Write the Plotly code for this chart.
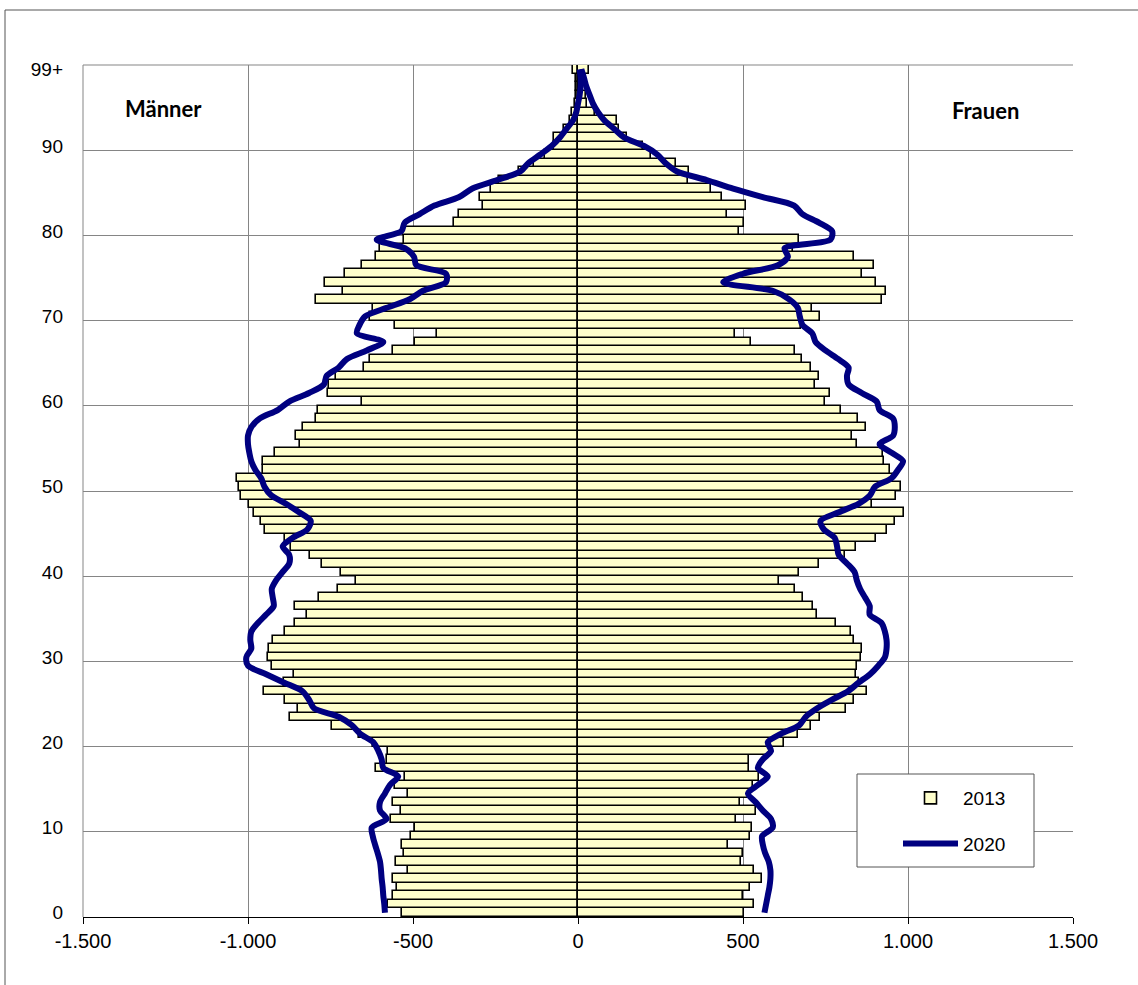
import plotly.graph_objects as go

# ---------------- data ----------------
ages = list(range(100))
age_tick_vals = [0, 10, 20, 30, 40, 50, 60, 70, 80, 90, 99]
age_tick_text = ["0", "10", "20", "30", "40", "50", "60", "70", "80", "90", "99+"]
value_tick_vals = [-1500, -1000, -500, 0, 500, 1000, 1500]
value_tick_text = ["-1.500", "-1.000", "-500", "0", "500", "1.000", "1.500"]

men_2013 = [
    -534, -575, -562, -550, -562, -514, -552, -527, -534, -506,
    -494, -568, -537, -562, -514, -555, -524, -612, -580, -575,
    -620, -663, -744, -874, -849, -889, -952, -890, -860, -927,
    -940, -937, -925, -889, -857, -821, -857, -785, -727, -673,
    -717, -775, -813, -869, -889, -948, -960, -983, -996, -1021,
    -1026, -1033, -955, -955, -917, -841, -854, -833, -795, -788,
    -654, -759, -754, -732, -648, -631, -562, -494, -428, -555,
    -631, -621, -793, -712, -768, -707, -656, -612, -600, -527,
    -531, -375, -362, -288, -296, -263, -239, -180, -134, -99,
    -74, -74, -43, -23, -18, -8, -5, -5, -5, -15,
]
women_2013 = [
    504, 532, 499, 522, 557, 534, 494, 499, 456, 521,
    527, 479, 540, 491, 524, 529, 549, 519, 519, 585,
    624, 668, 707, 732, 813, 837, 876, 853, 841, 844,
    857, 861, 837, 828, 783, 725, 712, 681, 658, 610,
    671, 729, 810, 841, 904, 935, 962, 989, 891, 965,
    978, 955, 945, 928, 925, 844, 830, 872, 849, 798,
    749, 765, 717, 729, 705, 678, 658, 524, 476, 676,
    732, 709, 920, 932, 902, 861, 897, 837, 650, 671,
    489, 504, 450, 509, 435, 403, 332, 337, 296, 220,
    198, 147, 124, 119, 53, 26, 23, 13, 10, 33,
]
men_2020 = [
    -585, -587, -590, -592, -595, -597, -600, -607, -615, -622,
    -625, -580, -600, -600, -585, -570, -545, -590, -595, -605,
    -620, -660, -685, -725, -800, -815, -835, -890, -945, -1000,
    -1005, -990, -993, -990, -970, -945, -922, -925, -928, -915,
    -895, -875, -875, -895, -865, -820, -810, -845, -885, -930,
    -950, -960, -978, -990, -996, -1000, -1000, -990, -965, -910,
    -875, -815, -770, -762, -725, -700, -640, -590, -670, -662,
    -645, -580, -510, -470, -400, -400, -490, -497, -525, -610,
    -535, -525, -480, -435, -360, -320, -245, -175, -150, -114,
    -80, -55, -35, -15, -5, 0, 5, 8, 8, 5,
]
women_2020 = [
    565, 570, 575, 580, 583, 583, 578, 567, 560, 558,
    590, 585, 560, 538, 515, 545, 575, 545, 560, 585,
    575, 615, 670, 690, 725, 770, 818, 850, 885, 910,
    930, 935, 935, 930, 920, 884, 884, 870, 855, 845,
    838, 815, 790, 785, 778, 745, 735, 790, 850, 885,
    900, 950, 970, 985, 950, 914, 955, 960, 955, 914,
    905, 860, 820, 815, 820, 788, 750, 720, 710, 680,
    672, 666, 640, 590, 440, 500, 606, 636, 626, 765,
    770, 730, 680, 655, 560, 470, 390, 300, 265, 240,
    200, 140, 110, 80, 60, 45, 35, 25, 18, 10,
]

# ---------------- figure ----------------
W, H = 1138, 985
L, R, T, B = 83, 1073, 65, 917   # plot-area pixel box

def px_x(p):
    return (p - L) / (R - L)

def px_y(p):
    return (B - p) / (B - T)

bar_style = dict(color="#FFFFCC", line=dict(color="black", width=1.6))
line_style = dict(color="#000080", width=6, shape="spline", smoothing=0.8)

fig = go.Figure()
fig.add_trace(go.Bar(y=ages, x=men_2013, orientation="h", name="2013", width=1,
                     marker=bar_style, legendgroup="a"))
fig.add_trace(go.Bar(y=ages, x=women_2013, orientation="h", name="2013", width=1,
                     marker=bar_style, legendgroup="a", showlegend=False))
fig.add_trace(go.Scatter(y=ages, x=men_2020, mode="lines", name="2020",
                         line=line_style, legendgroup="b"))
fig.add_trace(go.Scatter(y=ages, x=women_2020, mode="lines", name="2020",
                         line=line_style, legendgroup="b", showlegend=False))

x_tick_font = dict(family="Liberation Sans, Arial, sans-serif", size=20, color="black")
y_tick_font = dict(family="Liberation Sans, Arial, sans-serif", size=19, color="black")
grid_col = "#858585"

fig.update_layout(
    width=W, height=H,
    margin=dict(l=L, r=W - R, t=T, b=H - B),
    paper_bgcolor="white", plot_bgcolor="white",
    barmode="overlay", bargap=0,
    font=y_tick_font,
    xaxis=dict(range=[-1500, 1500], tickvals=value_tick_vals, ticktext=value_tick_text,
               showgrid=True, gridcolor=grid_col, gridwidth=1,
               zeroline=True, zerolinecolor="black", zerolinewidth=2,
               showline=True, linecolor="black", linewidth=1,
               ticks="outside", ticklen=6, tickcolor="black", tickfont=x_tick_font),
    yaxis=dict(range=[-0.5, 99.5], tickvals=age_tick_vals, ticktext=age_tick_text,
               showgrid=False, zeroline=False, showline=False, ticks="",
               ticklabelstandoff=19, tickfont=y_tick_font,
               minor=dict(tickvals=[9.5 + 10 * k for k in range(10)],
                          showgrid=True, gridcolor=grid_col, gridwidth=1)),
    legend=dict(x=px_x(898), y=px_y(779), xanchor="left", yanchor="top",
                bgcolor="rgba(0,0,0,0)", borderwidth=0,
                font=y_tick_font, itemwidth=55, tracegroupgap=18,
                traceorder="grouped"),
    showlegend=True,
)

# plot-area frame (top / left in grey), legend box and outer frame
fig.add_shape(type="line", xref="paper", yref="paper", x0=0, x1=1, y0=1, y1=1,
              line=dict(color=grid_col, width=1), layer="below")
fig.add_shape(type="line", xref="paper", yref="paper", x0=0, x1=0, y0=0, y1=1,
              line=dict(color=grid_col, width=1), layer="below")
fig.add_shape(type="rect", xref="paper", yref="paper",
              x0=px_x(857), x1=px_x(1034), y0=px_y(867), y1=px_y(774),
              line=dict(color="#555555", width=1), fillcolor="white", layer="above")
fig.add_shape(type="line", xref="paper", yref="paper",
              x0=px_x(5), x1=px_x(1138), y0=px_y(10), y1=px_y(10),
              line=dict(color="#555555", width=1))
fig.add_shape(type="line", xref="paper", yref="paper",
              x0=px_x(5), x1=px_x(5), y0=px_y(10), y1=px_y(985),
              line=dict(color="#555555", width=1))

label_font = dict(family="Lato, Open Sans, sans-serif", size=22, color="black")
fig.add_annotation(text="<b>Männer</b>", xref="paper", yref="paper",
                   x=px_x(163), y=px_y(108), xanchor="center", yanchor="middle",
                   showarrow=False, font=label_font)
fig.add_annotation(text="<b>Frauen</b>", xref="paper", yref="paper",
                   x=px_x(985), y=px_y(110), xanchor="center", yanchor="middle",
                   showarrow=False, font=label_font)

fig.write_html("out.html", config={"displayModeBar": False},
               post_script="document.body.style.margin='0';")
